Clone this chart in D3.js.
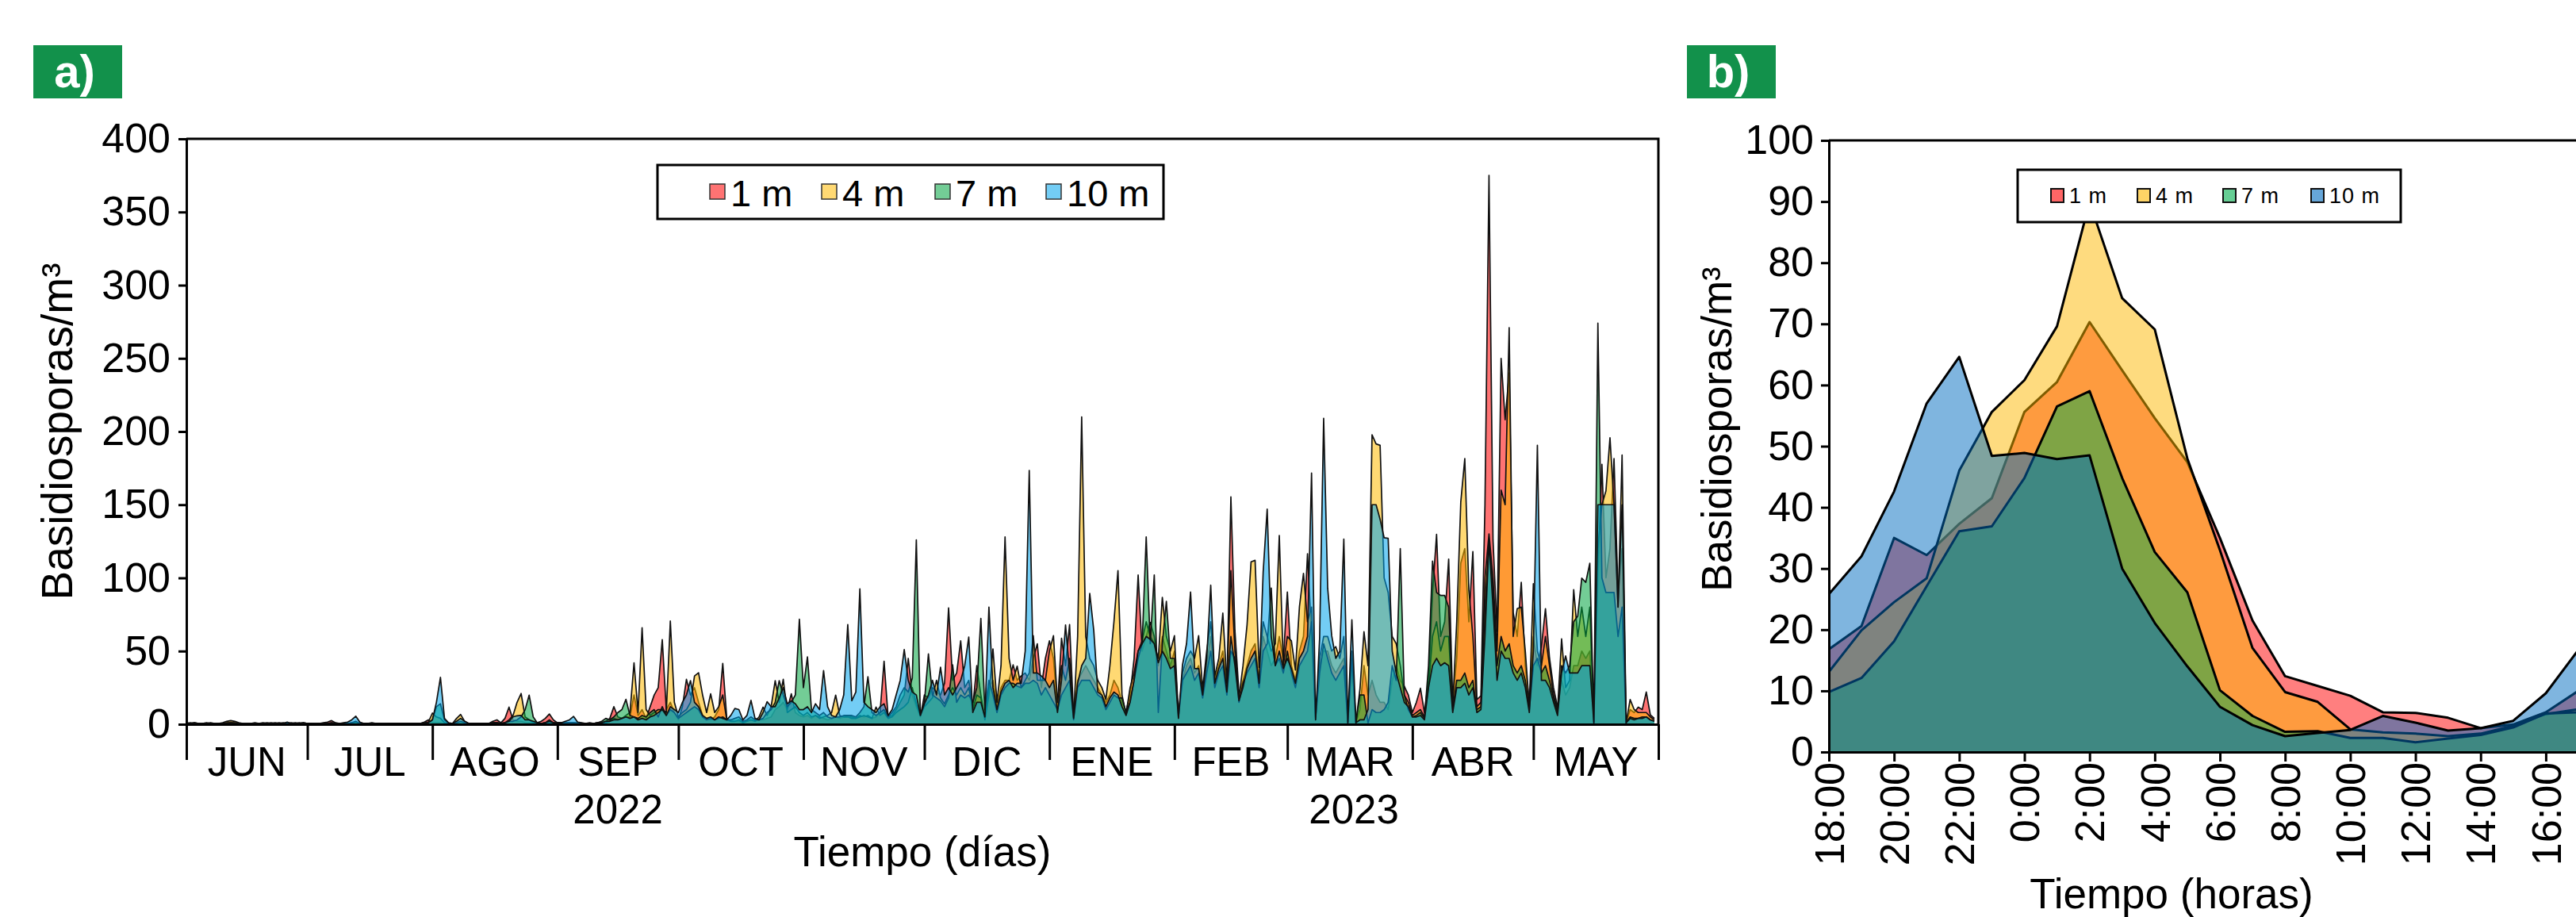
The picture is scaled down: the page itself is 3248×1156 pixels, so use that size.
<!DOCTYPE html>
<html>
<head>
<meta charset="utf-8">
<script src="https://d3js.org/d3.v7.min.js"></script>
<style>
  body { margin: 0; background: #fff; }
  svg { display: block; }
</style>
</head>
<body>
<div id="chart"></div>
<script>
// ---- panel a: daily counts, 1 Jun 2022 .. 31 May 2023 (one line per month) ----
const daily1m = [
  1,0.5,1,0.5,0.5,1,0.5,0,0.5,0.5,1,1.5,1,0.5,0,0.5,0.5,1,0.5,0.5,1,0.5,0.5,1,0.5,0.5,1,0.5,0.5,1,
  0.5,0.5,0.5,0.5,1,1.5,2.5,1,0.5,0.5,0.5,1,1,0.5,0.5,0.5,0,0.5,0.5,0.5,0.5,0.5,0.5,0.5,0.5,0.5,0.5,0.5,0.5,1.5,3,
  1,1,1,0.5,0.5,0.5,0.5,1,0.5,0.5,0.5,0.5,0.5,0.5,0.5,2,3,1,4,11.7,3,2,2,1,1,1,1,2,4,7,3,
  1,1,1,1,1,0.5,0.5,0.5,0.5,0.5,1,1,2,4,12,5,4,5,5,20,6,10,4,12,20,25,57.8,10,15,8,
  3,12,30.7,20,25,15,6,4,3,5,10,41.5,4,2,2,2,1,2,3,2,3,3,4,5,10,12,15,10,20.8,8,6,
  5,6,4,6,5,4,3,4,5,4,5,6,5,4,6,5,6,4,5,8,43,5,6,10,15,20,45,20,12,5,
  20,18,25,22,20,28,79.5,30,35,57,25,30,12,40,20,4,25,30,12,25,30,30,40.6,30,33,35,30,45,55,25,45,
  57,45,12,58.7,40,68.1,6,30,35,40,35,30,25,20,15,20,30,25,15,9,20,45,102,50,60,69.6,60,40,60,50,40,
  50,6,30,40,45,35,40,20,40,60,30,40,50,25,155.4,64,20.8,30,40,50,55,30,60,50,40,45,60,44,
  90.3,40,30,50,60,116.5,60,4.5,40,50,50,40,35,40,45,1,40,1,10,40,20,30,20,15,15,10,30,40,30,26,20,
  8,15,24.6,7.8,30,90,129.7,60,70,112.8,15.6,45,110,120,70,118,16.9,19.4,150,375,125.8,63.5,250,208,240,76.5,60,97,40,14.3,
  60,40,53,79,45.4,25,11.7,30,20,25,40,40,50,45,50,1.3,100,177.6,100,120,181.5,89.5,120,1,10,8,11.7,10,22,6.5,4
];
const daily4m = [
  0.5,0.5,0.5,0,0.5,0.5,1,0.5,0.5,1,2,2.5,2,1,0.5,0,0.5,0.5,0.5,0.5,0.5,0.5,1,0.5,0.5,0.5,0.5,0.5,1,0.5,
  0.5,0.5,0,0.5,0.5,0.5,1,0.5,0.5,0.5,0.5,0.5,1.5,0.5,0.5,0.5,0.5,0.5,0.5,0,0.5,0.5,0.5,0.5,0.5,0.5,0.5,0.5,0.5,1,1.5,
  7.6,5,4,1,0.5,0.5,4,6.7,2,0.5,0.5,0.5,0.5,0.5,0.5,1,1,0.5,1,3,6,15,21,5,3,1,0.5,0.5,1,1,0.5,
  1,0.5,1,1,1,0.5,0.5,0.5,0.5,0.5,0.5,1,1,2,4,3,4,6,8,42,8,66,10,6,8,10,10,8,70.5,15,
  5,8,10,15,33,35.2,20,8,20.8,8,12,20,3,2,2,3,1,2,3,2,5,11.7,6,12,29.8,15,30.7,8,10,12,8,
  6,8,5,6,4,5,6,8,19.9,6,5,5,4,4,5,6,5,4,11.7,6,8,4,5,8,10,12,15,25,14,6,
  12,15,18,30,18,14,20,25,20,25,20,25,10,20,18,3,20,51.5,15,40,128,45,30,39.7,25,30,35,60.5,30,30,30,
  50,60.5,15,40,30,45,5,60,210,60,45,40,30,25,17,40,70,105,20,7,25,35,50,57,70,60,55,45,86.7,60,50,
  60.5,5,35,45,50,45,60.5,24,50,70,33,45,75.9,28,105,50,18,40,67.7,111,112,38.8,70,60,50,55,129,40,
  60,57,37,80.4,103,70,80,3,45,60,60,50,53,45,60,1,50,1,24,63.2,40,197.8,191.5,190.6,100,90,60,55,40,20,15,
  6,8,10,5,25,60,70,50,60,60,12,70,151.7,181.5,92,60,12,15,100,130,100,50,160,150,271,60,79,80,50,12,
  96,50,40,60,40,20,10,58.3,25,30,92,60,80,60,80,1,120,150,159.5,195.8,150,80,184,1,16.9,10,8,8,8,5,3
];
const daily7m = [
  0.5,1,0.5,0.5,0,0.5,0.5,0.5,0.5,0.5,0.5,1,0.5,0.5,0.5,0.5,0,0.5,0.5,1,0.5,0.5,0.5,0.5,1,0.5,0.5,1,0.5,0.5,
  0.5,0.5,0.5,0.5,0.5,0.5,1,0.5,0.5,0.5,0.5,1,2,0.5,0.5,0.5,0.5,0.5,0.5,0.5,0.5,0.5,0.5,0.5,0.5,0.5,0.5,0.5,0.5,0.5,1,
  3,12,14,3,0.5,0.5,1,2,1,0.5,0.5,0.5,0.5,0.5,0.5,1,1,0.5,1,2,2,3,5,10,19.9,5,1,0.5,1,3,1,
  1,1,1,1,1,1,0.5,0.5,0.5,0.5,1,2,4,3,5,8,10,17,6,5,4,6,5,8,10,5,12,6,10,8,
  4,6,8,10,12,10,5,3,4,3,4,5,3,3,4,5,2,3,5,3,3,4,8,10,15,29.8,20,12,15,20,71.7,
  25,46,10,8,6,8,5,4,5,5,6,6,6,5,8,12,32.5,8,6,8,10,5,8,12,20,25,22,31.6,126,6,
  15,48,20,18,16,12,18,40.6,15,20,18,20,15,25,72.3,10,30,20,8,20,25,28,28,26,25,28,28,30,28,20,25,
  20,15,10,20,25,30,3,25,30,30,30,25,20,18,10,15,20,18,18,8,15,30,45,55,128,55,102,8,55,84,45,
  45,5,30,35,40,30,35,18,35,50,25,35,40,20,50,45,15,28,35,40,45,25,50,55,93,40,45,35,
  50,35,25,40,45,50,70,4,35,55,45,35,30,35,40,1,45,1,20,20,1,10,8,8,10,15,40,30,120,20,10,
  5,6,8,4,40,111.5,90,88,88,80,10,30,30,35,25,30,10,12,80,125,90,40,60,50,55,40,35,40,30,10,
  40,45,35,40,30,18,8,40,35,40,70,73.9,99.8,97,110,1,274,100,90,90,90,60,80,1,5,4,4,5,5,3,2
];
const daily10m = [
  0.5,0.5,1,0.5,0.5,0.5,0.5,0.5,0,0.5,1,1,1,0.5,0.5,0.5,0.5,0.5,0.5,0.5,0.5,1,0.5,0.5,0.5,1.5,0.5,0.5,0.5,1,
  0.5,0.5,0.5,0.5,0.5,0.5,0.5,0.5,0.5,1,1.5,3,5.5,1.5,0.5,0.5,1,0.5,0.5,0.5,0.5,0.5,0.5,0.5,0.5,0.5,0.5,0.5,0.5,0.5,1,
  3,15,32,4,1,0.5,2,4,2,0.5,0.5,0.5,0.5,0.5,0.5,1,1,0.5,1,2,5,5.8,6,3,3,2,1,0.5,1,2,1,
  1,1,2,3,5.4,1.5,1,0.5,1,0.5,1,1,2,2,3,3,4,5,4,5,3,4,3,5,6,8,10,6,12,10,
  8,15,20,29.8,15,12,6,4,5,3,5,4,3,6,10.8,10,3,6,16.3,4,3,8,15.4,12,12,18,25,14,16,14,10,
  10,12,8,14,10,36.7,12,6,5,10,20,68.1,16,22,92.5,15,12,10,8,12,14,6,10,20,30,51,30,22,20,6,
  14,20,30,20,39,20,25,20,25,30,40,59.6,8,15,15,5,80,25,10,22,28,30,25,28,28,50,173.4,35,35,33,30,
  25,30,8,30,67.8,35,4,28,40,45,89.4,64,22,20,12,18,22,20,12,6,15,30,50,55,60,58,55,42,50,45,38,
  40,4,40.6,55,90.3,38,38,20,45,95,28,38,45,22,60,40,16,25,38,45,50,28,103.9,147,60,40,50,38,
  45,38,28,45,50,60,171.6,3,58.7,209,93,60.5,45,49.7,126.5,1,71.4,1,3,3,10,150,150,140,127.4,127,50,35,25,15,12,
  5,5,6,3,25,40,45,40,42,40,8,25,25,28,20,25,8,10,60,125,80,30,50,45,45,35,30,35,25,8,
  50,190.6,30,30,25,15,6,35,46.7,35,35,35,40,40,40,1,150,150,150,150,150,80,150,1,4,3,4,4,5,3,2
];
const monthNames = ["JUN","JUL","AGO","SEP","OCT","NOV","DIC","ENE","FEB","MAR","ABR","MAY"];
const yearNames = ["2022", "2023"];
const yTicksA = [0, 50, 100, 150, 200, 250, 300, 350, 400];

// ---- panel b: hourly means, 18:00 .. 17:00 ----
const hourLabels = ["18:00","19:00","20:00","21:00","22:00","23:00","0:00","1:00","2:00","3:00","4:00","5:00",
                    "6:00","7:00","8:00","9:00","10:00","11:00","12:00","13:00","14:00","15:00","16:00","17:00"];
const hourly1m  = [16.8,20.6,35,32.2,37.3,41.5,55.6,60.5,70.3,62.4,54.6,47.4,35,21.5,12.4,10.8,9.2,6.5,6.4,5.6,3.9,4.5,6.5,10];
const hourly4m  = [13.1,19.9,24.5,28.4,46,55.6,60.8,69.6,89.9,74.2,69.1,48,33,17,9.8,8.2,3.7,3.2,3.0,2.6,3.0,4.3,6.2,7];
const hourly7m  = [9.8,12.1,18.1,27.1,36.1,36.9,44.8,56.5,59,44.8,32.7,26.1,10.1,5.9,3.3,3.4,2.3,2.3,1.6,2.2,2.8,4.0,6.3,6.5];
const hourly10m = [25.8,32,42.6,57,64.6,48.4,48.9,47.9,48.5,30,21.1,14,7.4,4.4,2.6,3.1,3.6,5.9,4.8,3.5,3.9,5.1,9.6,16.7];
const yTicksB = d3.range(0, 101, 10);

const seriesNames = ["1 m", "4 m", "7 m", "10 m"];

const FONT = "'Liberation Sans', Arial, Helvetica, sans-serif";
const svg = d3.select("#chart").append("svg")
  .attr("width", 3248)
  .attr("height", 1156)
  .attr("font-family", FONT);

function styleAxis(g, size) {
  g.selectAll("text").attr("font-size", size).attr("fill", "#000");
  g.selectAll("line, path").attr("stroke", "#000").attr("stroke-width", 3);
}

// panel tags
function panelTag(x, label) {
  svg.append("rect").attr("x", x).attr("y", 57).attr("width", 112).attr("height", 67).attr("fill", "#12914b");
  svg.append("text").attr("x", x + 52).attr("y", 110).attr("text-anchor", "middle")
    .attr("font-size", 58).attr("font-weight", "bold").attr("fill", "#fff").text(label);
}
panelTag(42, "a)");
panelTag(2127, "b)");

// ================= panel a =================
const startA = new Date(Date.UTC(2022, 5, 1));
const endA = new Date(Date.UTC(2023, 5, 1));
const xA = d3.scaleUtc().domain([startA, endA]).range([235, 2091]);
const yA = d3.scaleLinear().domain([0, 400]).range([913, 175]);
const dates = d3.range(daily1m.length).map(i => d3.utcDay.offset(startA, i));

const seriesA = [
  { name: seriesNames[0], vals: daily1m,  color: "#ff0000" },
  { name: seriesNames[1], vals: daily4m,  color: "#ffba00" },
  { name: seriesNames[2], vals: daily7m,  color: "#00a440" },
  { name: seriesNames[3], vals: daily10m, color: "#00a4ed" }
];

const gA = svg.append("g");
seriesA.forEach(s => {
  const area = d3.area().x((d, i) => xA(dates[i])).y0(yA(0)).y1(d => yA(d));
  const line = d3.line().x((d, i) => xA(dates[i])).y(d => yA(d));
  gA.append("path").datum(s.vals).attr("d", area)
    .attr("fill", s.color).attr("fill-opacity", 0.55);
  gA.append("path").datum(s.vals).attr("d", line)
    .attr("fill", "none").attr("stroke", "#111").attr("stroke-width", 1.7).attr("stroke-linejoin", "round");
});

// frame
gA.append("path")
  .attr("d", `M${xA(startA)},${yA(400)}H${xA(endA)}V${yA(0)}`)
  .attr("fill", "none").attr("stroke", "#000").attr("stroke-width", 3);

gA.append("g").attr("transform", `translate(${xA(startA)},0)`)
  .call(d3.axisLeft(yA).tickValues(yTicksA).tickSize(10).tickSizeOuter(0).tickPadding(10))
  .call(g => styleAxis(g, 52));

const monthStarts = d3.utcMonth.range(startA, d3.utcDay.offset(endA, 1));
gA.append("g").attr("transform", `translate(0,${yA(0)})`)
  .call(d3.axisBottom(xA).tickValues(monthStarts).tickSize(45).tickSizeOuter(0).tickFormat(""))
  .call(g => styleAxis(g, 52));

gA.append("g").selectAll("text")
  .data(monthNames)
  .join("text")
  .attr("x", (d, i) => (xA(monthStarts[i]) + xA(monthStarts[i + 1])) / 2)
  .attr("y", 978)
  .attr("text-anchor", "middle")
  .attr("font-size", 51)
  .text(d => d);

// year labels centred under the months of each year
const yearSpans = [[startA, new Date(Date.UTC(2023, 0, 1))], [new Date(Date.UTC(2023, 0, 1)), endA]];
gA.append("g").selectAll("text")
  .data(yearNames)
  .join("text")
  .attr("x", (d, i) => (xA(yearSpans[i][0]) + xA(yearSpans[i][1])) / 2)
  .attr("y", 1038)
  .attr("text-anchor", "middle")
  .attr("font-size", 51)
  .text(d => d);

gA.append("text").attr("x", (xA(startA) + xA(endA)) / 2).attr("y", 1092)
  .attr("text-anchor", "middle").attr("font-size", 53).text("Tiempo (días)");

gA.append("text")
  .attr("transform", `translate(91,${(yA(0) + yA(400)) / 2}) rotate(-90)`)
  .attr("text-anchor", "middle").attr("font-size", 55).text("Basidiosporas/m³");

// legend a
const legA = gA.append("g");
legA.append("rect").attr("x", 829).attr("y", 208).attr("width", 638).attr("height", 68)
  .attr("fill", "#fff").attr("stroke", "#000").attr("stroke-width", 3);
const legAx = [895, 1036, 1179, 1319];
seriesA.forEach((s, i) => {
  legA.append("rect").attr("x", legAx[i]).attr("y", 232).attr("width", 19).attr("height", 19)
    .attr("fill", s.color).attr("fill-opacity", 0.55).attr("stroke", "#333").attr("stroke-width", 1.5);
  legA.append("text").attr("x", legAx[i] + 26).attr("y", 260).attr("font-size", 47).text(s.name);
});

// ================= panel b =================
const xB = d3.scaleLinear().domain([0, hourLabels.length - 1]).range([2306, 3251]);
const yB = d3.scaleLinear().domain([0, 100]).range([948, 177]);

const seriesB = [
  { name: seriesNames[0], vals: hourly1m,  color: "#ff0000" },
  { name: seriesNames[1], vals: hourly4m,  color: "#fdb700" },
  { name: seriesNames[2], vals: hourly7m,  color: "#00ae4c" },
  { name: seriesNames[3], vals: hourly10m, color: "#006bbf" }
];

const gB = svg.append("g");
seriesB.forEach(s => {
  const area = d3.area().x((d, i) => xB(i)).y0(yB(0)).y1(d => yB(d));
  const line = d3.line().x((d, i) => xB(i)).y(d => yB(d));
  gB.append("path").datum(s.vals).attr("d", area)
    .attr("fill", s.color).attr("fill-opacity", 0.5);
  gB.append("path").datum(s.vals).attr("d", line)
    .attr("fill", "none").attr("stroke", "#000").attr("stroke-width", 3).attr("stroke-linejoin", "round");
});

gB.append("path")
  .attr("d", `M${xB(0)},${yB(100)}H${xB(hourLabels.length - 1)}V${yB(0)}`)
  .attr("fill", "none").attr("stroke", "#000").attr("stroke-width", 3);

gB.append("g").attr("transform", `translate(${xB(0)},0)`)
  .call(d3.axisLeft(yB).tickValues(yTicksB).tickSize(10).tickSizeOuter(0).tickPadding(9))
  .call(g => styleAxis(g, 52));

const evenHours = d3.range(0, hourLabels.length, 2);
gB.append("g").attr("transform", `translate(0,${yB(0)})`)
  .call(d3.axisBottom(xB).tickValues(evenHours).tickSize(12).tickSizeOuter(0).tickFormat(i => hourLabels[i]))
  .call(g => styleAxis(g, 52))
  .call(g => g.selectAll(".tick text")
    .attr("transform", "rotate(-90)")
    .attr("text-anchor", "end")
    .attr("x", -13).attr("y", 0).attr("dy", "0.35em"));

gB.append("text").attr("x", 2738).attr("y", 1145)
  .attr("text-anchor", "middle").attr("font-size", 53).text("Tiempo (horas)");

gB.append("text")
  .attr("transform", `translate(2183,541) rotate(-90)`)
  .attr("text-anchor", "middle").attr("font-size", 53).text("Basidiosporas/m³");

// legend b
const legB = gB.append("g");
legB.append("rect").attr("x", 2544).attr("y", 214).attr("width", 483).attr("height", 66)
  .attr("fill", "#fff").attr("stroke", "#000").attr("stroke-width", 3);
const legBx = [2586, 2695, 2803, 2914];
seriesB.forEach((s, i) => {
  legB.append("rect").attr("x", legBx[i]).attr("y", 238).attr("width", 16).attr("height", 17)
    .attr("fill", s.color).attr("fill-opacity", 0.6).attr("stroke", "#111").attr("stroke-width", 2);
  legB.append("text").attr("x", legBx[i] + 23).attr("y", 256).attr("font-size", 27)
    .attr("letter-spacing", 1).text(s.name);
});
</script>
</body>
</html>
